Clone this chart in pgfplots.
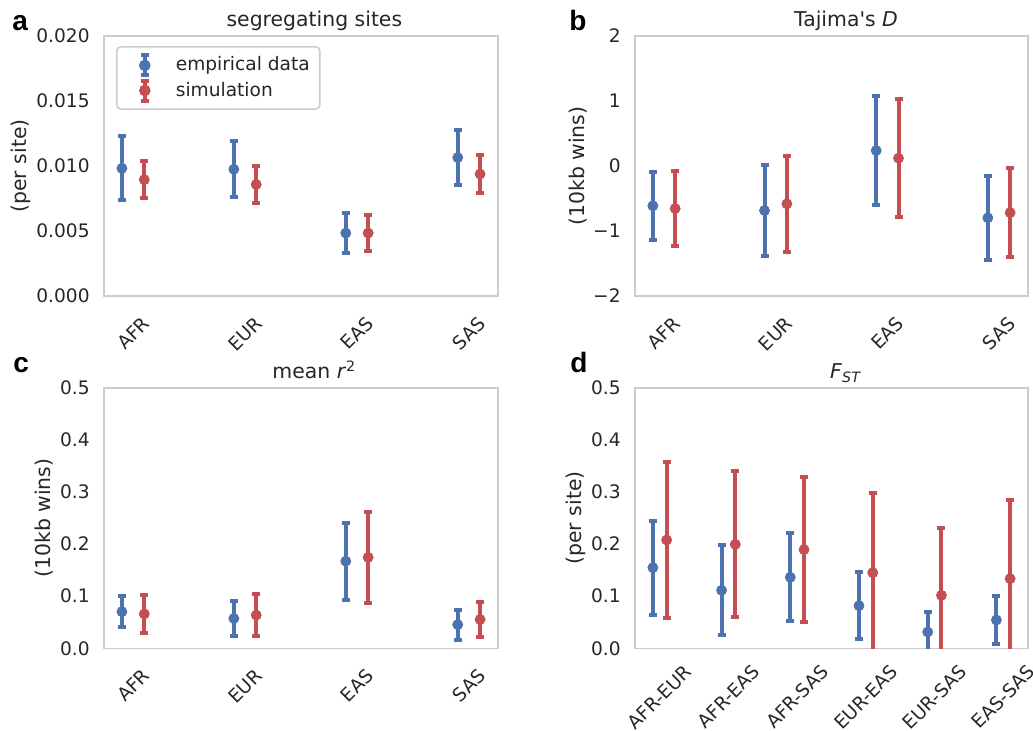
\documentclass[border=0pt]{standalone}
\usepackage{fontspec}
\setmainfont{DejaVu Sans}[Ligatures=TeXOff]
\newfontfamily\panelfont{Liberation Sans}
\usepackage{pgfplots}
\pgfplotsset{compat=1.18}
\definecolor{cblue}{HTML}{4C72B0}
\definecolor{cred}{HTML}{C44E52}
\definecolor{txt}{HTML}{262626}
\definecolor{spine}{HTML}{CCCCCC}

\newcommand{\fs}{\fontsize{9.3}{11}\selectfont}
\newcommand{\fl}{\fontsize{10.2}{12}\selectfont}
\newcommand{\rl}[1]{\rotatebox{45}{#1}}
% legend glyph: error bar with caps and a dot
\newcommand{\errleg}[1]{%
  \path[draw=none, fill=none] (0pt,0pt) -- (24.5pt,0pt);
  \draw[#1, line width=2pt] (11pt,-5pt) -- (11pt,5pt);
  \draw[#1, line width=2pt] (9pt,-5pt) -- (13pt,-5pt) (9pt,5pt) -- (13pt,5pt);
  \fill[#1] (11pt,0pt) circle (2.5pt);}

\pgfplotsset{
  panel/.style={
    scale only axis, anchor=south west,
    axis line style={spine, line width=0.8pt},
    major tick length=0pt, tick style={draw=none},
    tick label style={font=\fs, text=txt},
    yticklabel style={inner sep=0pt, anchor=east, xshift=-7pt},
    xticklabel style={inner sep=0pt, anchor=north, yshift=-9.5pt},
    label style={font=\fl, text=txt},
    ylabel style={anchor=center},
    every axis title shift=0pt,
    title style={font=\fl, text=txt, anchor=base, yshift=4.5pt},
    scaled y ticks=false,
    error bars/y dir=both, error bars/y explicit,
  },
  emp/.style={only marks, cblue, mark=*, mark size=2.5pt,
    error bars/error mark=|,
    error bars/error bar style={cblue, line width=2pt},
    error bars/error mark options={cblue, line width=2pt, mark size=2pt}},
  sim/.style={only marks, cred, mark=*, mark size=2.5pt,
    error bars/error mark=|,
    error bars/error bar style={cred, line width=2pt},
    error bars/error mark options={cred, line width=2pt, mark size=2pt}},
}

\begin{document}
\begin{tikzpicture}
\useasboundingbox (0pt,0pt) rectangle (516.5pt,-365.5pt);

% a: segregating sites
\begin{axis}[panel, at={(52pt,-148pt)}, width=197pt, height=130pt,
  xmin=-0.26, xmax=3.26, ymin=0, ymax=0.02,
  xtick={0,1,2,3}, xticklabels={\rl{AFR},\rl{EUR},\rl{EAS},\rl{SAS}},
  ytick={0,0.005,0.01,0.015,0.02},
  yticklabels={0.000,0.005,0.010,0.015,0.020},
  ylabel={(per site)}, ylabel style={at={(axis description cs:-0.211,0.5)}},
  title={segregating sites}, title style={at={(axis description cs:0.534,1)}},
  legend style={at={(axis description cs:0.0305,0.9615)}, anchor=north west,
    draw=spine, line width=0.8pt, rounded corners=2pt, font=\fs, text=txt,
    row sep=0pt, inner ysep=3pt, cells={anchor=west}},
]
\addplot[emp, legend image code/.code={\errleg{cblue}}] coordinates {
(-0.1,0.00982) +- (0,0.00245)
(0.9,0.00975) +- (0,0.00215)
(1.9,0.00484) +- (0,0.00157)
(2.9,0.01065) +- (0,0.00212)
};
\addlegendentry{empirical data}
\addplot[sim, legend image code/.code={\errleg{cred}}] coordinates {
(0.1,0.00895) +- (0,0.00141)
(1.1,0.00858) +- (0,0.00142)
(2.1,0.00484) +- (0,0.00136)
(3.1,0.00938) +- (0,0.00146)
};
\addlegendentry{simulation}
\end{axis}

% b: Tajima's D
\begin{axis}[panel, at={(317.5pt,-148pt)}, width=196.5pt, height=130pt,
  xmin=-0.26, xmax=3.26, ymin=-2, ymax=2,
  xtick={0,1,2,3}, xticklabels={\rl{AFR},\rl{EUR},\rl{EAS},\rl{SAS}},
  ytick={-2,-1,0,1,2}, yticklabels={−2,−1,0,1,2},
  ylabel={(10kb wins)}, ylabel style={at={(axis description cs:-0.145,0.5)}},
  title={Tajima's \textit{D}}, title style={at={(axis description cs:0.537,1)}},
]
\addplot[emp] coordinates {
(-0.1,-0.6125) +- (0,0.5255)
(0.9,-0.685) +- (0,0.700)
(1.9,0.2385) +- (0,0.8385)
(2.9,-0.7975) +- (0,0.6435)
};
\addplot[sim] coordinates {
(0.1,-0.654) +- (0,0.577)
(1.1,-0.582) +- (0,0.736)
(2.1,0.1205) +- (0,0.9055)
(3.1,-0.718) +- (0,0.682)
};
\end{axis}

% c: mean r^2
\begin{axis}[panel, at={(52pt,-324.15pt)}, width=197pt, height=130.3pt,
  xmin=-0.26, xmax=3.26, ymin=0, ymax=0.5,
  xtick={0,1,2,3}, xticklabels={\rl{AFR},\rl{EUR},\rl{EAS},\rl{SAS}},
  ytick={0,0.1,0.2,0.3,0.4,0.5}, yticklabels={0.0,0.1,0.2,0.3,0.4,0.5},
  ylabel={(10kb wins)}, ylabel style={at={(axis description cs:-0.1515,0.5)}},
  title={mean \textit{r}\textsuperscript{2}}, title style={at={(axis description cs:0.534,1)}},
]
\addplot[emp] coordinates {
(-0.1,0.0703) +- (0,0.0294)
(0.9,0.0572) +- (0,0.0329)
(1.9,0.1672) +- (0,0.0738)
(2.9,0.0454) +- (0,0.0288)
};
\addplot[sim] coordinates {
(0.1,0.0659) +- (0,0.0359)
(1.1,0.0637) +- (0,0.0400)
(2.1,0.1745) +- (0,0.0875)
(3.1,0.0553) +- (0,0.0342)
};
\end{axis}

% d: F_ST
\begin{axis}[panel, at={(317.5pt,-324.15pt)}, width=196.5pt, height=130.3pt,
  xmin=-0.36, xmax=5.36, ymin=0, ymax=0.5,
  xtick={0,1,2,3,4,5},
  xticklabels={\rl{AFR-EUR},\rl{AFR-EAS},\rl{AFR-SAS},\rl{EUR-EAS},\rl{EUR-SAS},\rl{EAS-SAS}},
  xticklabel style={yshift=2pt},
  ytick={0,0.1,0.2,0.3,0.4,0.5}, yticklabels={0.0,0.1,0.2,0.3,0.4,0.5},
  ylabel={(per site)}, ylabel style={at={(axis description cs:-0.151,0.5)}},
  title={\textit{F}\textsubscript{\textit{ST}}}, title style={at={(axis description cs:0.537,1)}},
]
\addplot[emp] coordinates {
(-0.1,0.1547) +- (0,0.0905)
(0.9,0.1113) +- (0,0.0862)
(1.9,0.1362) +- (0,0.0844)
(2.9,0.0818) +- (0,0.0646)
(3.9,0.0313) +- (0,0.0384)
(4.9,0.0543) +- (0,0.0454)
};
\addplot[sim] coordinates {
(0.1,0.2078) +- (0,0.1496)
(1.1,0.1995) +- (0,0.1400)
(2.1,0.1893) +- (0,0.1388)
(3.1,0.1451) +- (0,0.1522)
(4.1,0.1017) +- (0,0.1298)
(5.1,0.1336) +- (0,0.1509)
};
\end{axis}

% panel letters
\begin{scope}[every node/.style={anchor=base west, text=black, inner sep=0pt,
    font={\fontsize{14}{16}\panelfont\bfseries}}]
\node at (6pt,-15.35pt) {a};
\node at (284.5pt,-15.35pt) {b};
\node at (6.5pt,-186.5pt) {c};
\node at (285pt,-186.5pt) {d};
\end{scope}
\end{tikzpicture}
\end{document}
